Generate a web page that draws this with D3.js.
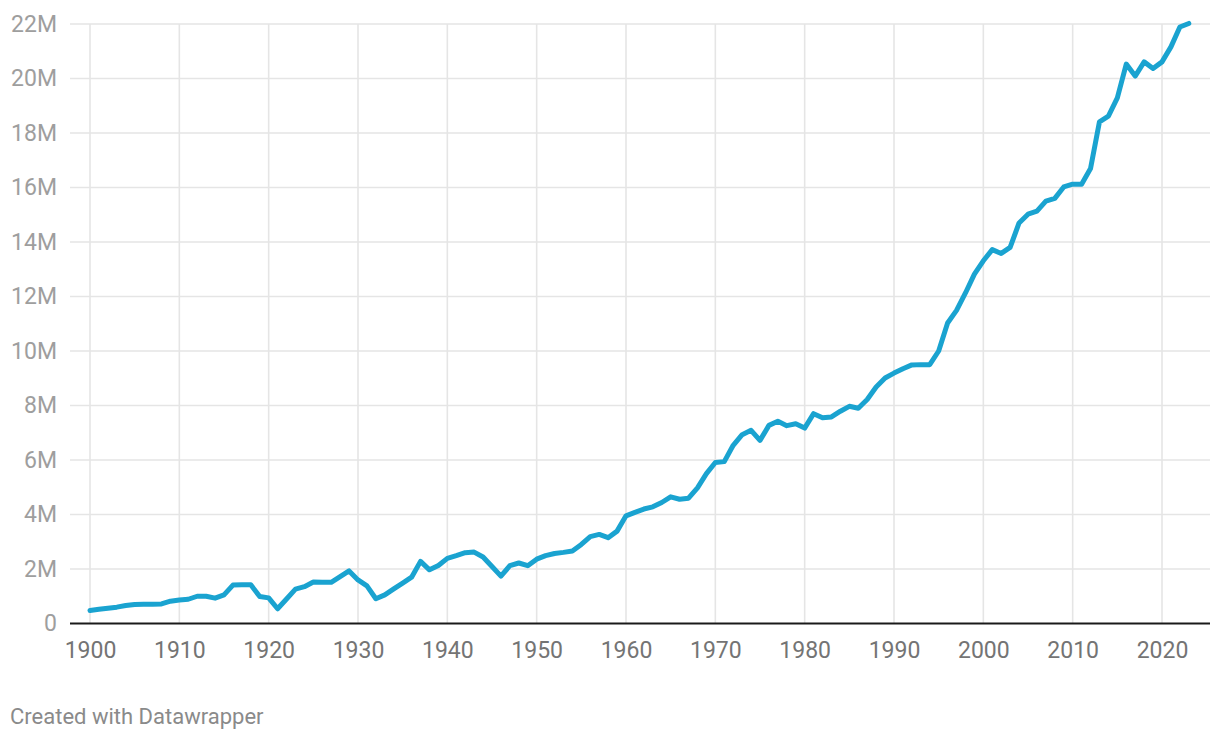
<!DOCTYPE html>
<html>
<head>
<meta charset="utf-8">
<script src="https://cdn.jsdelivr.net/npm/d3@7"></script>
<style>
  html, body { margin: 0; padding: 0; background: #fff; }
  svg { display: block; font-family: Roboto, "Noto Sans", sans-serif; }
</style>
</head>
<body>
<svg id="chart" width="1220" height="740"></svg>
<script>
const years = [
  1900,1901,1902,1903,1904,1905,1906,1907,1908,1909,
  1910,1911,1912,1913,1914,1915,1916,1917,1918,1919,
  1920,1921,1922,1923,1924,1925,1926,1927,1928,1929,
  1930,1931,1932,1933,1934,1935,1936,1937,1938,1939,
  1940,1941,1942,1943,1944,1945,1946,1947,1948,1949,
  1950,1951,1952,1953,1954,1955,1956,1957,1958,1959,
  1960,1961,1962,1963,1964,1965,1966,1967,1968,1969,
  1970,1971,1972,1973,1974,1975,1976,1977,1978,1979,
  1980,1981,1982,1983,1984,1985,1986,1987,1988,1989,
  1990,1991,1992,1993,1994,1995,1996,1997,1998,1999,
  2000,2001,2002,2003,2004,2005,2006,2007,2008,2009,
  2010,2011,2012,2013,2014,2015,2016,2017,2018,2019,
  2020,2021,2022,2023
];
// values in millions
const values = [
  0.48,0.52,0.56,0.60,0.66,0.70,0.71,0.71,0.72,0.82,
  0.86,0.89,1.00,1.00,0.93,1.05,1.41,1.42,1.42,0.99,
  0.94,0.54,0.90,1.26,1.35,1.52,1.51,1.51,1.72,1.93,
  1.60,1.38,0.91,1.05,1.27,1.48,1.70,2.28,1.97,2.13,
  2.39,2.49,2.60,2.62,2.44,2.09,1.74,2.12,2.22,2.12,
  2.36,2.49,2.57,2.61,2.66,2.90,3.19,3.27,3.15,3.39,
  3.95,4.08,4.20,4.28,4.44,4.65,4.56,4.60,4.98,5.50,
  5.91,5.94,6.54,6.93,7.09,6.72,7.27,7.42,7.26,7.33,
  7.17,7.70,7.55,7.58,7.79,7.97,7.90,8.22,8.68,9.01,
  9.19,9.35,9.49,9.50,9.50,10.00,11.03,11.49,12.13,12.82,
  13.31,13.72,13.58,13.80,14.70,15.02,15.13,15.50,15.60,16.02,
  16.12,16.12,16.70,18.41,18.62,19.29,20.53,20.09,20.61,20.37,
  20.61,21.16,21.89,22.02
];
const yTicks = [0,2,4,6,8,10,12,14,16,18,20,22];
const yTickLabels = ["0","2M","4M","6M","8M","10M","12M","14M","16M","18M","20M","22M"];
const xTicks = [1900,1910,1920,1930,1940,1950,1960,1970,1980,1990,2000,2010,2020];
const xTickLabels = ["1900","1910","1920","1930","1940","1950","1960","1970","1980","1990","2000","2010","2020"];

const data = years.map((y, i) => ({ year: y, value: values[i] }));

const svg = d3.select("#chart");
const gridLeft = 70, gridRight = 1210;
const x = d3.scaleLinear().domain([1900, 2020]).range([90, 1162]);
const y = d3.scaleLinear().domain([0, 22]).range([623.5, 24]);

// horizontal gridlines
svg.append("g").selectAll("line").data(yTicks.filter(d => d > 0)).join("line")
  .attr("x1", gridLeft).attr("x2", gridRight)
  .attr("y1", d => y(d)).attr("y2", d => y(d))
  .attr("stroke", "#e5e5e5").attr("stroke-width", 1.6);

// vertical gridlines
svg.append("g").selectAll("line").data(xTicks).join("line")
  .attr("x1", d => x(d)).attr("x2", d => x(d))
  .attr("y1", y(22)).attr("y2", y(0))
  .attr("stroke", "#e5e5e5").attr("stroke-width", 1.6);

// y axis labels
const yAxis = d3.axisLeft(y).tickValues(yTicks).tickSize(0).tickPadding(13)
  .tickFormat((d, i) => yTickLabels[i]);
const gy = svg.append("g").attr("transform", `translate(${gridLeft},0)`).call(yAxis);
gy.select(".domain").remove();
gy.selectAll("text").attr("fill", "#9e9e9e").style("font-size", "23px")
  .style("font-family", "Roboto, sans-serif");

// x axis labels
const xAxis = d3.axisBottom(x).tickValues(xTicks).tickSize(0).tickPadding(0)
  .tickFormat((d, i) => xTickLabels[i]);
const gx = svg.append("g").attr("transform", `translate(0,${y(0)})`).call(xAxis);
gx.select(".domain").remove();
gx.selectAll("text").attr("fill", "#747474").style("font-size", "23px")
  .style("font-family", "Roboto, sans-serif").attr("y", 34.5).attr("dy", 0);

// baseline
svg.append("line")
  .attr("x1", gridLeft).attr("x2", gridRight)
  .attr("y1", y(0)).attr("y2", y(0))
  .attr("stroke", "#1a1a1a").attr("stroke-width", 2.2);

// line
const line = d3.line().x(d => x(d.year)).y(d => y(d.value));
svg.append("path").datum(data)
  .attr("d", line)
  .attr("fill", "none")
  .attr("stroke", "#1aa3d0")
  .attr("stroke-width", 5)
  .attr("stroke-linejoin", "round")
  .attr("stroke-linecap", "round");

// footer
svg.append("text")
  .attr("x", 10).attr("y", 723.5)
  .attr("fill", "#8a8a8a")
  .style("font-size", "22px")
  .style("font-family", "Roboto, sans-serif")
  .text("Created with Datawrapper");
</script>
</body>
</html>
